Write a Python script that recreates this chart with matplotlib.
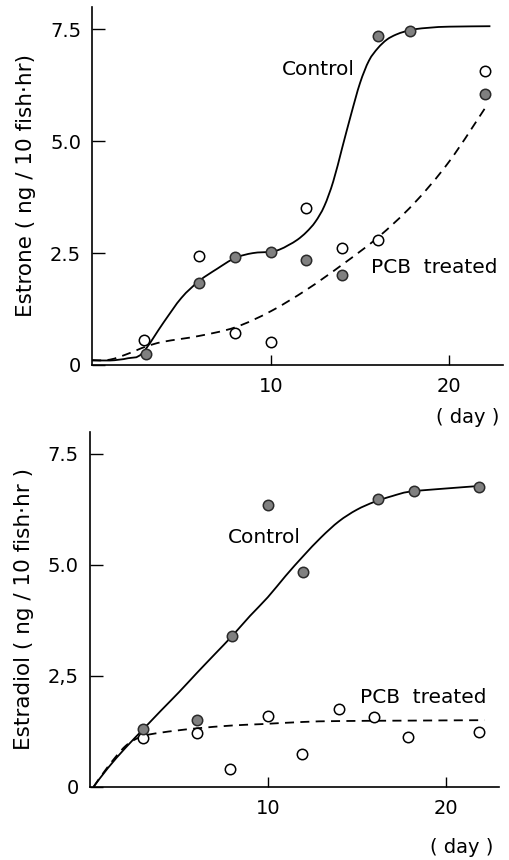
import numpy as np
import matplotlib
matplotlib.use("Agg")
import matplotlib.pyplot as plt
from matplotlib.path import Path
from matplotlib.patches import PathPatch

plt.rcParams['font.family'] = ['DejaVu Sans']

# ---- estrone (top panel) ----
e1_ctrl_day = [3, 6, 8, 10, 12, 14, 16, 17.8, 22]
e1_ctrl_val = [0.24, 1.83, 2.41, 2.52, 2.34, 2.0, 7.36, 7.46, 6.05]
e1_pcb_day = [2.9, 6, 8, 10, 12, 14, 16, 22]
e1_pcb_val = [0.55, 2.44, 0.71, 0.52, 3.51, 2.62, 2.80, 6.58]

# fitted curves (knots)
e1_ctrl_fit_x = [0, 1, 2, 2.8, 4, 5, 6, 7, 8, 9, 10, 10.5, 11, 11.5, 12, 12.5, 13, 13.5,
                 14, 14.5, 15, 15.5, 16, 16.5, 17, 17.5, 18, 19, 20, 22.3]
e1_ctrl_fit_y = [0.11, 0.10, 0.15, 0.26, 0.95, 1.5, 1.88, 2.15, 2.39, 2.5, 2.53, 2.58,
                 2.68, 2.8, 2.97, 3.2, 3.55, 4.1, 4.85, 5.6, 6.3, 6.8, 7.08, 7.27, 7.38,
                 7.45, 7.5, 7.54, 7.56, 7.57]
e1_pcb_fit_x = [0, 1, 2, 3, 4, 6, 8, 10, 12, 14, 16, 18, 20, 22.1]
e1_pcb_fit_y = [0.1, 0.12, 0.25, 0.41, 0.52, 0.65, 0.84, 1.2, 1.68, 2.24, 2.85, 3.6, 4.55, 5.8]

# ---- estradiol (bottom panel) ----
e2_ctrl_day = [3, 6, 8, 10, 12, 16.2, 18.2, 21.9]
e2_ctrl_val = [1.30, 1.50, 3.40, 6.34, 4.84, 6.49, 6.67, 6.76]
e2_pcb_day = [3, 6, 7.9, 10, 11.9, 14, 16, 17.9, 21.9]
e2_pcb_val = [1.09, 1.22, 0.39, 1.60, 0.73, 1.76, 1.57, 1.12, 1.24]

e2_ctrl_fit_x = [0.2, 1, 2, 3, 4, 5, 6, 7, 8, 9, 10, 11, 12, 13, 14, 15, 16, 17, 18, 20, 22]
e2_ctrl_fit_y = [0.0, 0.42, 0.88, 1.30, 1.72, 2.13, 2.56, 2.98, 3.40, 3.85, 4.27, 4.75,
                 5.2, 5.62, 5.98, 6.24, 6.42, 6.55, 6.65, 6.72, 6.78]
e2_pcb_fit_x = [0.2, 1, 2, 2.9, 4, 5.85, 8, 9.6, 12, 14, 18, 22.2]
e2_pcb_fit_y = [0.0, 0.45, 0.92, 1.13, 1.22, 1.31, 1.38, 1.41, 1.46, 1.48, 1.49, 1.5]

yticks = [0, 2.5, 5.0, 7.5]
e1_yticklabels = ['0', '2.5', '5.0', '7.5']
e2_yticklabels = ['0', '2,5', '5.0', '7.5']
xticks = [10, 20]


def smooth_curve(ax, xs, ys, **kw):
    # Catmull-Rom knots turned into cubic Bezier segments, drawn by matplotlib
    pts = np.column_stack([xs, ys])
    n = len(pts)
    verts = [pts[0]]
    codes = [Path.MOVETO]
    for i in range(n - 1):
        p0 = pts[max(i - 1, 0)]
        p1 = pts[i]
        p2 = pts[i + 1]
        p3 = pts[min(i + 2, n - 1)]
        verts += [p1 + (p2 - p0) / 6, p2 - (p3 - p1) / 6, p2]
        codes += [Path.CURVE4] * 3
    ax.add_patch(PathPatch(Path(verts, codes), fill=False, **kw))


def style_axes(ax, ylabels, ylabel):
    ax.set_xlim(0, 23)
    ax.set_ylim(0, 8)
    for s in ['top', 'right']:
        ax.spines[s].set_visible(False)
    for s in ['left', 'bottom']:
        ax.spines[s].set_linewidth(1.2)
    ax.set_yticks(yticks)
    ax.set_yticklabels(ylabels)
    ax.set_xticks(xticks)
    ax.tick_params(direction='in', length=7, width=1.0, labelsize=14, pad=9)
    ax.tick_params(axis='y', length=9, pad=8)
    ax.set_ylabel(ylabel, fontsize=15.5, labelpad=10)


fig = plt.figure(figsize=(5.09, 8.6), dpi=100)
ax1 = fig.add_axes([0.181, 0.5756, 0.807, 0.4163])
ax2 = fig.add_axes([0.177, 0.0852, 0.803, 0.4128])

# top
smooth_curve(ax1, e1_ctrl_fit_x, e1_ctrl_fit_y, color='black', lw=1.3)
smooth_curve(ax1, e1_pcb_fit_x, e1_pcb_fit_y, color='black', lw=1.3, linestyle=(0, (5, 3.5)))
ax1.plot(e1_pcb_day, e1_pcb_val, 'o', ms=7.5, mfc='white', mec='black', mew=1.1, zorder=3)
ax1.plot(e1_ctrl_day, e1_ctrl_val, 'o', ms=7.5, mfc='#808080', mec='#2a2a2a', mew=1.1, zorder=3)
ax1.text(10.65, 6.6, 'Control', fontsize=14.5, ha='left', va='center')
ax1.text(15.6, 2.17, 'PCB  treated', fontsize=14.5, ha='left', va='center')
style_axes(ax1, e1_yticklabels, 'Estrone ( ng / 10 fish\u00b7hr)')

# bottom
smooth_curve(ax2, e2_ctrl_fit_x, e2_ctrl_fit_y, color='black', lw=1.3)
smooth_curve(ax2, e2_pcb_fit_x, e2_pcb_fit_y, color='black', lw=1.3, linestyle=(0, (5, 3.5)))
ax2.plot(e2_pcb_day, e2_pcb_val, 'o', ms=7.5, mfc='white', mec='black', mew=1.1, zorder=3)
ax2.plot(e2_ctrl_day, e2_ctrl_val, 'o', ms=7.5, mfc='#808080', mec='#2a2a2a', mew=1.1, zorder=3)
ax2.text(7.75, 5.62, 'Control', fontsize=14.5, ha='left', va='center')
ax2.text(15.2, 2.02, 'PCB  treated', fontsize=14.5, ha='left', va='center')
style_axes(ax2, e2_yticklabels, 'Estradiol ( ng / 10 fish\u00b7hr )')

fig.text(0.982, 0.515, '( day )', fontsize=14, ha='right', va='center')
fig.text(0.969, 0.014, '( day )', fontsize=14, ha='right', va='center')

fig.savefig('out.png', dpi=100)
